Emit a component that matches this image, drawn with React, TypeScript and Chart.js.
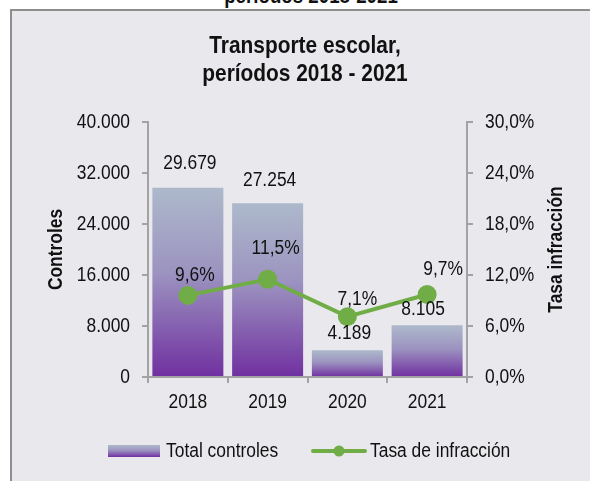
import React, { useEffect, useRef } from "react";
import { Chart, registerables } from "chart.js";

Chart.register(...registerables);

const categories = ["2018", "2019", "2020", "2021"];
const totalControles = [29679, 27254, 4189, 8105];
const tasaInfraccion = [9.6, 11.5, 7.1, 9.7];
const titleLines = ["Transporte escolar,", "períodos 2018 - 2021"];
const topCutText = "períodos 2018-2021";
const seriesNames = ["Total controles", "Tasa de infracción"];
const leftAxisTitle = "Controles";
const rightAxisTitle = "Tasa infracción";

// label nudges (style only)
const barLabelNudge = [[2, -24], [2, -23], [2, -17], [-4, -16]];
const lineLabelNudge = [[7, -20], [8, -31], [10, -17], [16, -25]];

const FAMILY = '"Liberation Sans", Arial, sans-serif';
const SX = 0.87; // horizontal squeeze to mimic a narrow face
const TEXT = "#111111";
const AXIS = "#a3a3a3";
const GREEN = "#70ad47";

const fmtThousands = (v: number) => String(Math.round(v)).replace(/\B(?=(\d{3})+(?!\d))/g, ".");
const fmtPct = (v: number) => v.toFixed(1).replace(".", ",") + "%";

function barGradient(c: CanvasRenderingContext2D, top: number, bottom: number) {
  const g = c.createLinearGradient(0, top, 0, bottom);
  g.addColorStop(0, "#adb9cb");
  g.addColorStop(0.45, "#9c93c0");
  g.addColorStop(1, "#7030a0");
  return g;
}

const extrasPlugin = {
  id: "extras",
  afterDatasetsDraw(chart: any) {
    const c: CanvasRenderingContext2D = chart.ctx;
    const area = chart.chartArea;
    c.save();
    c.fillStyle = TEXT;
    c.font = `20px ${FAMILY}`;
    c.textAlign = "center";
    c.textBaseline = "middle";
    const barMeta = chart.getDatasetMeta(0);
    barMeta.data.forEach((el: any, i: number) => {
      const [dx, dy] = barLabelNudge[i];
      c.fillText(fmtThousands(totalControles[i]), el.x + dx, el.y + dy);
    });
    const lineMeta = chart.getDatasetMeta(1);
    lineMeta.data.forEach((el: any, i: number) => {
      const [dx, dy] = lineLabelNudge[i];
      c.fillText(fmtPct(tasaInfraccion[i]), el.x + dx, el.y + dy);
    });

    // title
    c.font = `bold 24px ${FAMILY}`;
    c.textBaseline = "alphabetic";
    const cx = chart.width / 2;
    c.fillText(titleLines[0], cx, 41.7);
    c.fillText(titleLines[1], cx, 69.7);

    // axis titles
    c.textBaseline = "middle";
    const midY = (area.top + area.bottom) / 2;
    c.font = `bold 20px ${FAMILY}`;
    c.save();
    c.translate(44, midY);
    c.rotate(-Math.PI / 2);
    c.fillText(leftAxisTitle, 0, 0);
    c.restore();
    c.save();
    c.translate(area.right + 89, midY);
    c.rotate(-Math.PI / 2);
    c.fillText(rightAxisTitle, 0, 0);
    c.restore();

    // legend
    const ly = 440;
    c.fillStyle = barGradient(c, ly - 6, ly + 6);
    c.fillRect(96, ly - 6, 52, 12);
    c.fillStyle = TEXT;
    c.font = `20px ${FAMILY}`;
    c.textAlign = "left";
    c.fillText(seriesNames[0], 154, ly);
    c.strokeStyle = GREEN;
    c.lineWidth = 4;
    c.lineCap = "round";
    c.beginPath();
    c.moveTo(301, ly);
    c.lineTo(353, ly);
    c.stroke();
    c.fillStyle = GREEN;
    c.beginPath();
    c.arc(327, ly, 5.5, 0, Math.PI * 2);
    c.fill();
    c.fillStyle = TEXT;
    c.fillText(seriesNames[1], 358, ly);
    c.restore();
  },
};

export default function App() {
  const ref = useRef<HTMLCanvasElement | null>(null);
  useEffect(() => {
    const canvas = ref.current;
    if (!canvas) return;
    const c2d = canvas.getContext("2d") as any;
    const origFill = c2d.fillText;
    c2d.fillText = function (text: string, x: number, y: number, mw?: number) {
      this.save();
      this.translate(x, y);
      this.scale(SX, 1);
      if (mw === undefined || mw === null) origFill.call(this, text, 0, 0);
      else origFill.call(this, text, 0, 0, mw / SX);
      this.restore();
    };
    const tickFont = { family: FAMILY, size: 20 };
    const gridCfg = { drawOnChartArea: false, drawTicks: true, tickLength: 6, color: AXIS, lineWidth: 2 };
    const chart = new Chart(canvas, {
      type: "bar",
      data: {
        labels: categories,
        datasets: [
          {
            type: "bar",
            label: seriesNames[0],
            data: totalControles,
            yAxisID: "y",
            order: 2,
            barPercentage: 0.89,
            categoryPercentage: 1,
            backgroundColor: (ctx: any) => {
              const chart = ctx.chart;
              const y = chart.scales && chart.scales.y;
              if (ctx.type !== "data" || !y) return "#9080b8";
              const top = y.getPixelForValue(ctx.raw);
              const base = y.getPixelForValue(0);
              if (!isFinite(top) || !isFinite(base) || base - top < 1) return "#9080b8";
              return barGradient(chart.ctx, top, base);
            },
            borderWidth: 0,
          },
          {
            type: "line",
            label: seriesNames[1],
            data: tasaInfraccion,
            yAxisID: "y1",
            order: 0,
            borderColor: GREEN,
            borderWidth: 4,
            pointRadius: 9.5,
            pointBackgroundColor: GREEN,
            pointBorderWidth: 0,
            tension: 0,
          },
        ] as any,
      },
      options: {
        responsive: false,
        animation: false,
        devicePixelRatio: 1,
        layout: { padding: { left: 0, right: 0, top: 111, bottom: 64 } },
        plugins: {
          legend: { display: false },
          tooltip: { enabled: false },
          title: { display: false },
        },
        scales: {
          x: {
            offset: true,
            grid: { ...gridCfg, offset: true },
            border: { color: AXIS, width: 2 },
            ticks: { font: tickFont, color: TEXT, padding: 7 },
            afterFit: (s: any) => { s.height = 40; },
          },
          y: {
            position: "left",
            min: 0,
            max: 40000,
            ticks: { stepSize: 8000, font: tickFont, color: TEXT, padding: 12, callback: (v: any) => fmtThousands(Number(v)) },
            grid: gridCfg,
            border: { color: AXIS, width: 2 },
            afterFit: (s: any) => { s.width = 136; },
          },
          y1: {
            position: "right",
            min: 0,
            max: 30,
            ticks: { stepSize: 6, font: tickFont, color: TEXT, padding: 12, callback: (v: any) => fmtPct(Number(v)) },
            grid: gridCfg,
            border: { color: AXIS, width: 2 },
            afterFit: (s: any) => { s.width = 131; },
          },
        },
      } as any,
      plugins: [extrasPlugin],
    });
    return () => {
      chart.destroy();
      c2d.fillText = origFill;
    };
  }, []);

  return (
    <div style={{ position: "fixed", left: 0, top: 0, width: 590, height: 481, overflow: "hidden", background: "#ffffff" }}>
      <div
        style={{
          position: "absolute",
          left: 311,
          top: -14.6,
          transform: "translateX(-50%) scaleX(0.85)",
          fontFamily: FAMILY,
          fontWeight: "bold",
          fontSize: 22,
          lineHeight: "22px",
          color: TEXT,
          whiteSpace: "nowrap",
        }}
      >
        {topCutText}
      </div>
      <div
        style={{
          position: "absolute",
          left: 10,
          top: 9,
          width: 620,
          height: 500,
          background: "#e9e8ed",
          borderTop: "2px solid #8e8e8e",
          borderLeft: "2px solid #8e8e8e",
          boxSizing: "border-box",
        }}
      >
        <canvas ref={ref} width={586} height={470} style={{ position: "absolute", left: 0, top: 0, display: "block" }} />
      </div>
    </div>
  );
}
